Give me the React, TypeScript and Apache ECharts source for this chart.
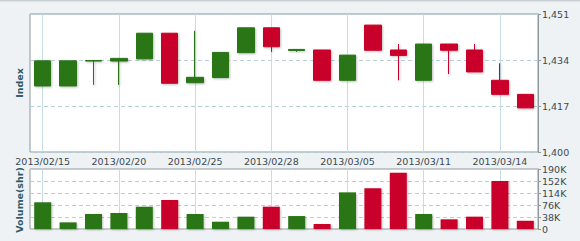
import React, { useEffect, useRef } from "react";
import * as echarts from "echarts";

const dates = [
  "2013/02/15", "2013/02/18", "2013/02/19", "2013/02/20", "2013/02/21",
  "2013/02/22", "2013/02/25", "2013/02/26", "2013/02/27", "2013/02/28",
  "2013/03/01", "2013/03/04", "2013/03/05", "2013/03/06", "2013/03/07",
  "2013/03/11", "2013/03/12", "2013/03/13", "2013/03/14", "2013/03/15",
];
const opens = [1424.4, 1424.4, 1433.6, 1433.6, 1434.4, 1443.9, 1425.6, 1427.5, 1436.7, 1445.9,
  1437.5, 1437.7, 1426.5, 1446.9, 1437.7, 1426.5, 1439.9, 1437.7, 1426.5, 1421.3];
const closes = [1433.7, 1433.7, 1433.8, 1434.6, 1443.9, 1425.4, 1427.6, 1436.8, 1445.9, 1438.9,
  1437.9, 1426.5, 1435.8, 1437.6, 1435.7, 1439.9, 1437.6, 1429.6, 1421.3, 1416.3];
const lows = [1424.4, 1424.4, 1424.8, 1424.8, 1434.4, 1425.4, 1425.6, 1427.5, 1436.7, 1437.0,
  1437.0, 1426.5, 1426.5, 1437.6, 1426.5, 1426.5, 1428.8, 1429.6, 1421.3, 1416.3];
const highs = [1433.7, 1433.7, 1433.8, 1434.6, 1443.9, 1443.9, 1444.8, 1436.8, 1445.9, 1445.9,
  1437.9, 1437.7, 1435.8, 1446.9, 1439.9, 1439.9, 1439.9, 1439.9, 1432.8, 1421.3];
const volumes = [84600, 21000, 47500, 50700, 70600, 91800, 47500, 23000, 39000, 70600,
  41000, 15800, 116000, 129000, 178000, 47500, 30600, 39000, 152000, 26000];

const priceTicks = [1400, 1417, 1434, 1451];
const volumeTicks = [0, 38000, 76000, 114000, 152000, 190000];

const UP = "#2a7417";
const DOWN = "#c9002b";

export default function App() {
  const ref = useRef<HTMLDivElement>(null);
  useEffect(() => {
    document.body.style.margin = "0";
    if (!ref.current) return;
    const chart = echarts.init(ref.current, null, { renderer: "svg" });
    const base = priceTicks[0];
    const step = priceTicks[1] - priceTicks[0];
    const candleData = dates.map((_, i) => [
      opens[i] - base, closes[i] - base, lows[i] - base, highs[i] - base,
    ]);
    const volData = volumes.map((v, i) => ({
      value: v,
      itemStyle: { color: closes[i] >= opens[i] ? UP : DOWN },
    }));
    const labelStyle = { color: "#3b4a53", fontFamily: "DejaVu Sans", fontSize: 9.5 };
    const vSplit = {
      show: true, interval: 2, alignWithLabel: true,
      lineStyle: { color: "#c6dde5", width: 1 },
    };
    const hSplit = { show: true, lineStyle: { color: "#b9d0d7", type: [4, 3], width: 1 } };
    const shadow = { shadowBlur: 2, shadowColor: "rgba(0,0,0,0.25)", shadowOffsetX: 1, shadowOffsetY: 1 };
    const nameFont = "bold 9.5px 'DejaVu Sans'";
    chart.setOption({
      animation: false,
      backgroundColor: "#eef2f4",
      textStyle: { fontFamily: "DejaVu Sans" },
      grid: [
        { left: 30, right: 42, top: 14, height: 138, show: true, backgroundColor: "#ffffff", borderColor: "#8e989d", borderWidth: 1 },
        { left: 30, right: 42, top: 169, height: 60, show: true, backgroundColor: "#ffffff", borderColor: "#8e989d", borderWidth: 1 },
      ],
      xAxis: [
        {
          type: "category", gridIndex: 0, data: dates, boundaryGap: true,
          axisLine: { show: false }, axisTick: { show: false },
          axisLabel: { ...labelStyle, interval: 2, margin: 4 },
          splitLine: vSplit,
        },
        {
          type: "category", gridIndex: 1, data: dates, boundaryGap: true,
          axisLine: { show: false }, axisTick: { show: false },
          axisLabel: { show: false },
          splitLine: vSplit,
        },
      ],
      yAxis: [
        {
          type: "value", gridIndex: 0, position: "right",
          min: 0, max: priceTicks[priceTicks.length - 1] - base, interval: step,
          axisLine: { show: true, lineStyle: { color: "#8e989d" } },
          axisTick: { show: true, length: 3, lineStyle: { color: "#8e989d" } },
          axisLabel: {
            ...labelStyle, margin: 4,
            formatter: (v: number) => (v + base).toLocaleString("en-US"),
          },
          splitLine: hSplit,
        },
        {
          type: "value", gridIndex: 1, position: "right",
          min: 0, max: volumeTicks[volumeTicks.length - 1], interval: volumeTicks[1],
          axisLine: { show: true, lineStyle: { color: "#8e989d" } },
          axisTick: { show: true, length: 3, lineStyle: { color: "#8e989d" } },
          axisLabel: {
            ...labelStyle, margin: 4,
            formatter: (v: number) => (v === 0 ? "0" : Math.round(v / 1000) + "K"),
          },
          splitLine: hSplit,
        },
      ],
      graphic: [
        {
          type: "text", x: 19, y: 83, rotation: Math.PI / 2,
          style: { text: "Index", fill: "#2c5b6a", font: nameFont, align: "center", verticalAlign: "middle" },
        },
        {
          type: "text", x: 19, y: 200, rotation: Math.PI / 2,
          style: { text: "Volume(shr)", fill: "#2c5b6a", font: nameFont, align: "center", verticalAlign: "middle" },
        },
        {
          type: "rect", shape: { x: 0, y: 0, width: 580, height: 1.5 },
          style: { fill: "#c9d1d5" },
        },
      ],
      series: [
        {
          type: "candlestick", xAxisIndex: 0, yAxisIndex: 0, data: candleData,
          barWidth: 17,
          itemStyle: { color: UP, color0: DOWN, borderColor: UP, borderColor0: DOWN, borderWidth: 1, ...shadow },
        },
        {
          type: "bar", xAxisIndex: 1, yAxisIndex: 1, data: volData, barWidth: 17,
          itemStyle: shadow,
        },
      ],
    });
    return () => chart.dispose();
  }, []);
  return <div ref={ref} style={{ width: 580, height: 241 }} />;
}
